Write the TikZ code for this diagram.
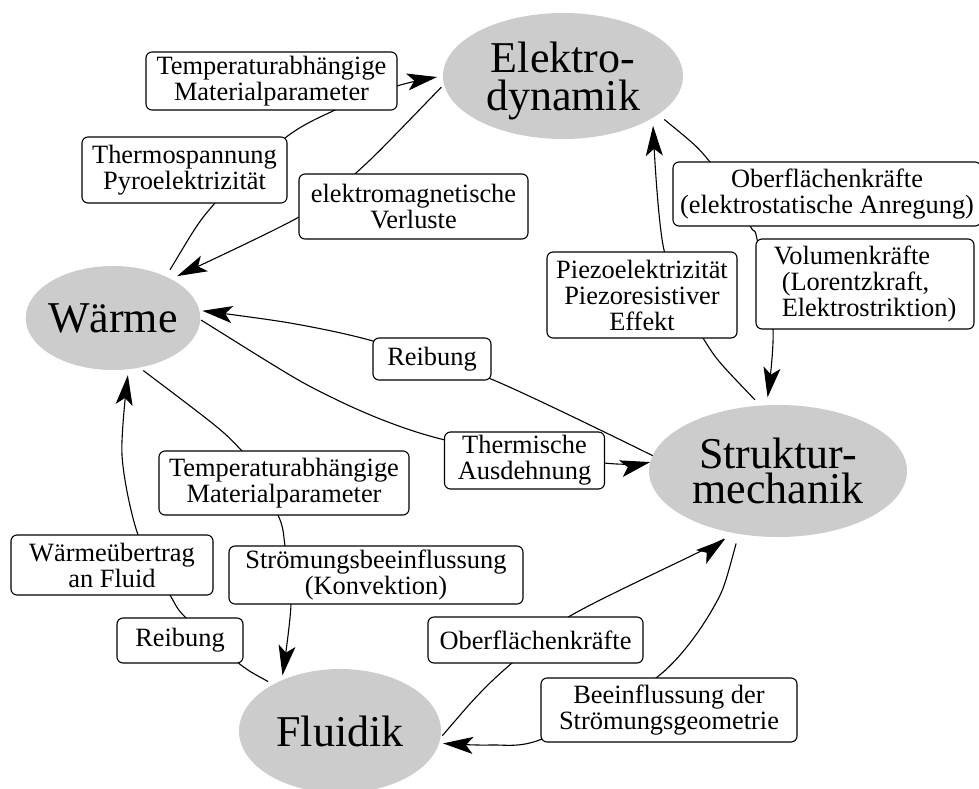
\documentclass[tikz,border=0pt]{standalone}
\usepackage{fontspec}
\setmainfont{Liberation Serif}
\usetikzlibrary{shapes.geometric,arrows.meta}
\definecolor{fieldfill}{gray}{0.8}
\begin{document}
\begin{tikzpicture}[x=1pt,y=-1pt,
  physfield/.style={ellipse, fill=fieldfill, inner xsep=-3pt, inner ysep=0pt,
    outer sep=0pt, align=center, font=\fontsize{44}{37}\selectfont},
  effect/.style={draw, rounded corners=6pt, fill=white, line width=1.1pt,
    inner sep=1pt, align=center, font=\fontsize{26.4}{26}\selectfont},
  link/.style={line width=1.1pt},
  flow/.style={link, -{Stealth[length=30pt,width=17pt,inset=7pt]}},
]
\useasboundingbox (0,0) rectangle (979,789);

% physical fields
\node[physfield, minimum width=240pt, minimum height=126pt, font=\fontsize{44}{38}\selectfont]
  (elektro) at (563,76) {\rule{0pt}{40pt}Elektro-\\dynamik};
\node[physfield, minimum width=174pt, minimum height=104pt] (waerme) at (113,318) {Wärme};
\node[physfield, minimum width=258pt, minimum height=132pt, font=\fontsize{44}{35}\selectfont]
  (struktur) at (778,471) {Struktur-\\mechanik};
\node[physfield, minimum width=202pt, minimum height=124pt] (fluidik) at (340,731) {Fluidik};

% couplings (drawn first, the effect boxes cover them)
\draw[flow, shorten <=8pt, shorten >=6pt] plot[smooth] coordinates
  {(waerme.38) (215,203) (285,138) (333,111) (397,86) (elektro.180)};
\draw[flow, shorten <=4pt, shorten >=7pt] plot[smooth] coordinates
  {(elektro.184) (356,173) (299,217) (waerme.34)};
\draw[flow, shorten >=3pt] plot[smooth] coordinates
  {(struktur.173) (491,379) (373,341) (290,323) (waerme.5)};
\draw[flow, shorten <=1pt] plot[smooth] coordinates
  {(waerme.-1) (333,398) (445,440) (604,463) (struktur.176)};
\draw[flow, shorten <=8pt, shorten >=8pt] plot[smooth] coordinates
  {(struktur.105) (703,338) (664,250) (elektro.335)};
\draw[flow, shorten <=8pt, shorten >=8pt] plot[smooth] coordinates
  {(elektro.338) (710,162) (750,226) (757,239) (773,329) (struktur.100)};
\draw[flow, shorten <=6pt, shorten >=6pt] plot[smooth] coordinates
  {(fluidik.145) (237,662) (186,618) (170,595) (138,535) (122,455) (waerme.287.5)};
\draw[flow, shorten <=5pt, shorten >=5pt] plot[smooth] coordinates
  {(waerme.298) (242,451) (278,515) (285,546) (291,604) (fluidik.139)};
\draw[flow, shorten <=3pt, shorten >=10pt] plot[smooth] coordinates
  {(fluidik.356) (480,693) (512,663) (570,616) (703,550) (struktur.234)};
\draw[flow, shorten <=10pt, shorten >=4pt] plot[smooth] coordinates
  {(struktur.238) (712,610) (656,678) (542,739) (490,745) (fluidik.353)};

% coupling effects
\node[effect, minimum width=251pt, minimum height=58pt] (tempA) at (271.5,81)
  {Temperaturabhängige\\Materialparameter};
\node[effect, minimum width=205pt, minimum height=66pt] (thermo) at (184.5,170)
  {Thermospannung\\Pyroelektrizität};
\node[effect, minimum width=229pt, minimum height=65pt] (verluste) at (413.5,206.5)
  {elektromagnetische\\Verluste};
\node[effect, minimum width=118pt, minimum height=42pt] (reibA) at (432,359) {Reibung};
\node[effect, minimum width=308pt, minimum height=64pt] (oberA) at (827,194)
  {Oberflächenkräfte\\(elektrostatische Anregung)};
\node[effect, minimum width=218pt, minimum height=90pt, align=left] (volumen) at (865,284)
  {Volumenkräfte\\\hspace*{8pt}(Lorentzkraft,\\\hspace*{8pt}Elektrostriktion)};
\node[effect, minimum width=190pt, minimum height=86pt] (piezo) at (642,295)
  {Piezoelektrizität\\Piezoresistiver\\Effekt};
\node[effect, minimum width=160pt, minimum height=57pt] (ausdehnung) at (524.5,460.5)
  {Thermische\\Ausdehnung};
\node[effect, minimum width=250pt, minimum height=64pt] (tempB) at (284,483)
  {Temperaturabhängige\\Materialparameter};
\node[effect, minimum width=202pt, minimum height=60pt] (uebertrag) at (112,565)
  {Wärmeübertrag\\an Fluid};
\node[effect, minimum width=294pt, minimum height=58pt] (stroemung) at (376,575)
  {Strömungsbeeinflussung\\(Konvektion)};
\node[effect, minimum width=126pt, minimum height=45pt] (reibB) at (180,640.5) {Reibung};
\node[effect, minimum width=215pt, minimum height=46pt] (oberB) at (535.5,640)
  {Oberflächenkräfte};
\node[effect, minimum width=256pt, minimum height=64pt] (geometrie) at (669,710)
  {Beeinflussung der\\Strömungsgeometrie};
\end{tikzpicture}
\end{document}
